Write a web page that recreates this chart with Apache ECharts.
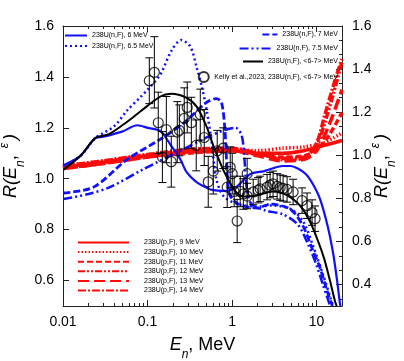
<!DOCTYPE html>
<html><head><meta charset="utf-8">
<script src="https://cdn.jsdelivr.net/npm/echarts@6/dist/echarts.min.js"></script>
<style>html,body{margin:0;padding:0;background:#fff}#c{width:404px;height:361px}</style>
</head><body><div id="c"></div>
<script>
// ---- tick labels ----
const xMajorTicks = [0.01, 0.1, 1, 10];
const xMinorTicks = [0.02,0.03,0.04,0.05,0.06,0.07,0.08,0.09,0.2,0.3,0.4,0.5,0.6,0.7,0.8,0.9,2,3,4,5,6,7,8,9,20];
const yLeftTicks = [0.6, 0.8, 1.0, 1.2, 1.4, 1.6];
const yRightTicks = [0.4, 0.6, 0.8, 1.0, 1.2, 1.4, 1.6];
const yRightMinor = [0.333,0.467,0.533,0.667,0.733,0.867,0.933,1.067,1.133,1.267,1.333,1.467,1.533];

// ---- series names ----
const nameN6 = '238U(n,F), 6 MeV';
const nameN65 = '238U(n,F), 6.5 MeV';
const nameN7 = '238U(n,F), 7 MeV';
const nameN75 = '238U(n,F), 7.5 MeV';
const nameAvg = '238U(n,F), <6-7> MeV';
const nameKelly = 'Kelly et al.,2023, 238U(n,F), <6-7> MeV';
const namesP = ['238U(p,F), 9 MeV','238U(p,F), 10 MeV','238U(p,F), 11 MeV','238U(p,F), 12 MeV','238U(p,F), 13 MeV','238U(p,F), 14 MeV'];

// ---- data [E (MeV), R] ----
const n6 = [[0.0101,1.053],[0.0161,1.09],[0.0242,1.16],[0.03,1.165],[0.05,1.185],[0.0758,1.21],[0.1,1.2],[0.142,1.187],[0.19,1.13],[0.244,1.077],[0.29,1.026],[0.38,0.987],[0.5,0.965],[0.6,0.955],[0.8,0.952],[1.1,0.965],[1.64,1.018],[2.4,1.03],[4.0,1.05],[4.9,1.05],[6.0,1.04],[7.5,1.018],[9.0,0.98],[11,0.92],[13.5,0.815],[15.6,0.713],[17.5,0.6],[18.9,0.51],[19.2,0.5]];
const n65 = [[0.0101,1.05],[0.0161,1.09],[0.0242,1.16],[0.04,1.205],[0.058,1.27],[0.082,1.32],[0.1,1.35],[0.142,1.41],[0.19,1.5],[0.25,1.545],[0.32,1.52],[0.38,1.44],[0.44,1.36],[0.5,1.27],[0.57,1.15],[0.65,1.0],[0.8,0.93],[1.2,0.9],[2.0,0.89],[3.0,0.895],[5.0,0.88],[7.0,0.83],[9.0,0.74],[12,0.62],[15,0.52],[15.6,0.5]];
const n7 = [[0.0101,0.944],[0.023,0.967],[0.058,1.077],[0.142,1.155],[0.27,1.22],[0.5,1.3],[0.65,1.315],[0.75,1.3],[0.82,1.2],[0.87,1.05],[0.93,0.94],[1.2,0.9],[2.0,0.885],[2.8,0.9],[4.9,0.88],[6.9,0.815],[9.0,0.72],[11,0.65],[13,0.57],[15.4,0.5]];
const n75 = [[0.0101,0.92],[0.02,0.94],[0.036,0.967],[0.089,1.037],[0.225,1.104],[0.5,1.162],[0.8,1.19],[1.1,1.2],[1.3,1.17],[1.4,1.08],[1.5,0.96],[1.7,0.9],[2.5,0.875],[4.0,0.86],[6.0,0.82],[8.0,0.74],[10,0.66],[12,0.58],[14.5,0.5]];
const nAvg = [[0.0101,1.035],[0.0161,1.09],[0.0242,1.16],[0.035,1.175],[0.058,1.225],[0.082,1.264],[0.142,1.323],[0.19,1.334],[0.29,1.318],[0.38,1.284],[0.5,1.205],[0.6,1.13],[0.8,1.03],[1.1,0.95],[1.4,0.93],[2.0,0.935],[3.0,0.95],[4.5,0.935],[6.4,0.893],[8.4,0.83],[10.5,0.752],[12.3,0.686],[14.4,0.6],[16.5,0.52],[17.3,0.5]];
const p9  = [[0.01,1.045],[0.03,1.065],[0.1,1.09],[0.3,1.105],[1,1.11],[2,1.1],[4,1.1],[7,1.11],[12,1.13],[20,1.15]];
const p10 = [[0.01,1.05],[0.03,1.07],[0.1,1.095],[0.3,1.11],[1,1.115],[2,1.11],[4,1.12],[7,1.125],[12,1.14],[20,1.18]];
const p11 = [[0.01,1.04],[0.03,1.06],[0.1,1.085],[0.3,1.1],[1,1.11],[2,1.095],[4,1.085],[7,1.09],[10,1.11],[14,1.17],[20,1.26]];
const p12 = [[0.01,1.045],[0.03,1.065],[0.1,1.09],[0.3,1.11],[1,1.115],[2,1.1],[4,1.08],[7,1.085],[10,1.13],[12.5,1.22],[16,1.34],[20,1.46]];
const p13 = [[0.01,1.04],[0.03,1.06],[0.1,1.085],[0.3,1.105],[1,1.11],[2,1.09],[4,1.07],[7,1.075],[10,1.11],[14,1.21],[20,1.35]];
const p14 = [[0.01,1.05],[0.03,1.07],[0.1,1.095],[0.3,1.115],[1,1.12],[2,1.1],[4,1.075],[7,1.08],[10,1.14],[12.5,1.25],[17,1.4],[20,1.47]];
// Kelly et al. 2023: [E, R, error]
const kelly = [[0.105,1.385,0.09],[0.1205,1.418,0.14],[0.134,1.22,0.12],[0.150,1.085,0.10],[0.167,1.193,0.13],[0.191,1.067,0.10],[0.225,1.183,0.12],[0.238,1.19,0.10],[0.272,1.237,0.12],[0.295,1.28,0.10],[0.330,1.22,0.10],[0.377,1.131,0.10],[0.421,1.252,0.10],[0.469,1.162,0.11],[0.523,0.988,0.10],[0.600,1.03,0.09],[0.668,1.11,0.08],[0.787,1.12,0.08],[0.877,0.967,0.08],[0.952,1.045,0.08],[1.005,1.02,0.08],[1.06,0.95,0.06],[1.15,0.834,0.085],[1.25,0.95,0.06],[1.36,0.94,0.06],[1.51,1.02,0.06],[1.51,0.932,0.05],[1.78,0.948,0.05],[2.04,0.955,0.05],[2.15,0.96,0.05],[2.60,0.967,0.05],[2.82,0.975,0.05],[3.06,0.98,0.05],[3.42,0.97,0.05],[3.71,0.965,0.05],[4.02,0.962,0.05],[4.48,0.958,0.05],[5.28,0.948,0.05],[6.74,0.914,0.05],[7.73,0.894,0.05],[8.85,0.867,0.05],[9.6,0.843,0.05]];

const BLUE = '#1010ff', RED = '#ff0a0a', BLACK = '#000';
const FONT = 'Liberation Sans, Arial, sans-serif';
const pData = [p9,p10,p11,p12,p13,p14];
const pDash = ['solid',[1.5,2],[6,3],[7,2,2,2,2,2],[11,5],[8,2,2,2]];

const series = [];
pData.forEach((d,i)=>series.push({name:namesP[i],type:'line',data:d,smooth:0.3,symbol:'none',
  lineStyle:{color:RED,width:3.5,type:pDash[i]},itemStyle:{color:RED},z:2}));
series.push({name:nameN6,type:'line',data:n6,smooth:0.3,symbol:'none',lineStyle:{color:BLUE,width:2.2},itemStyle:{color:BLUE},z:3});
series.push({name:nameN65,type:'line',data:n65,smooth:0.3,symbol:'none',lineStyle:{color:BLUE,width:2.5,type:[2,3]},itemStyle:{color:BLUE},z:3});
series.push({name:nameN7,type:'line',data:n7,smooth:0.3,symbol:'none',lineStyle:{color:BLUE,width:2.8,type:[7,3]},itemStyle:{color:BLUE},z:3});
series.push({name:nameN75,type:'line',data:n75,smooth:0.3,symbol:'none',lineStyle:{color:BLUE,width:2.5,type:[9,3,2,3,2,3]},itemStyle:{color:BLUE},z:3});
series.push({name:nameAvg,type:'line',data:nAvg,smooth:0.3,symbol:'none',lineStyle:{color:BLACK,width:2},itemStyle:{color:BLACK},z:4});
series.push({name:'err',type:'custom',data:kelly,z:5,encode:{x:0,y:1},
  renderItem:function(params,api){
    const x=api.value(0),y=api.value(1),e=api.value(2);
    const t=api.coord([x,y+e]),b=api.coord([x,y-e]);const w=4;
    const st={stroke:'#000',lineWidth:1};
    return {type:'group',children:[
      {type:'line',shape:{x1:t[0],y1:t[1],x2:b[0],y2:b[1]},style:st},
      {type:'line',shape:{x1:t[0]-w,y1:t[1],x2:t[0]+w,y2:t[1]},style:st},
      {type:'line',shape:{x1:b[0]-w,y1:b[1],x2:b[0]+w,y2:b[1]},style:st}]};
  }});
series.push({name:nameKelly,type:'scatter',data:kelly.map(r=>[r[0],r[1]]),symbol:'circle',symbolSize:10,
  itemStyle:{color:'rgba(255,255,255,0)',borderColor:'#000',borderWidth:1.2},z:6});

const legTxt = {fontSize:7,fontFamily:FONT,color:'#000'};
const noSym = {opacity:0};
const legends = [
  {data:[nameN6,nameN65],orient:'vertical',left:64,top:32,itemWidth:22,itemHeight:7,itemGap:3.5,textStyle:legTxt,itemStyle:noSym},
  {data:[nameN7],right:66,top:31,itemWidth:15,itemHeight:7,textStyle:legTxt,itemStyle:noSym},
  {data:[nameN75],right:66,top:45,itemWidth:32,itemHeight:7,textStyle:legTxt,itemStyle:noSym},
  {data:[nameAvg],right:66,top:58,itemWidth:20,itemHeight:7,textStyle:legTxt,itemStyle:noSym},
  {data:[nameKelly],right:66,top:71,itemWidth:11,itemHeight:10,textStyle:legTxt},
  {data:namesP,orient:'vertical',left:77,top:239,itemWidth:51,itemHeight:7,itemGap:2.6,itemStyle:noSym,
   textStyle:Object.assign({padding:[0,0,0,10]},legTxt)}
];
legends.forEach(l=>{l.padding=0;l.selectedMode=false;l.backgroundColor='transparent';});

const axLine = {show:true,lineStyle:{color:'#222',width:1}};
const fmtX = v => String(Number(Number(v).toPrecision(3)));
const nameRich = {
  i:{fontSize:18,fontStyle:'italic',fontFamily:FONT,color:'#000',lineHeight:24},
  s:{fontSize:12,fontStyle:'italic',fontFamily:FONT,color:'#000',verticalAlign:'bottom',lineHeight:24,padding:[0,0,-4,0]},
  t:{fontSize:18,fontFamily:FONT,color:'#000',lineHeight:24},
  e:{fontSize:12,fontStyle:'italic',fontFamily:FONT,color:'#000',verticalAlign:'top',lineHeight:24,padding:[0,3,0,2]}
};
const yName = '{i|R(E}{s|n}{t|, }{e|ε}{i|)}';

const option = {
  animation:false,
  backgroundColor:'#fff',
  grid:{left:63,right:62,top:26,bottom:55,containLabel:false,outerBoundsMode:'none'},
  legend:legends,
  xAxis:[
    {type:'log',logBase:10,min:0.01,max:20,position:'bottom',axisLine:axLine,
     axisTick:{show:true,inside:true,length:6,customValues:xMajorTicks,lineStyle:{color:'#222'}},
     axisLabel:{show:true,customValues:xMajorTicks,formatter:fmtX,fontSize:14,fontFamily:FONT,color:'#000',margin:9},
     splitLine:{show:false},minorTick:{show:false},
     name:'{i|E}{s|n}{t|, MeV}',nameLocation:'middle',nameGap:27,nameMoveOverlap:false,nameTextStyle:{rich:nameRich}},
    {type:'log',logBase:10,min:0.01,max:20,position:'bottom',axisLine:{show:false},
     axisTick:{show:true,inside:true,length:3,customValues:xMinorTicks,lineStyle:{color:'#222'}},
     axisLabel:{show:false},splitLine:{show:false}},
    {type:'log',logBase:10,min:0.01,max:20,position:'top',axisLine:axLine,
     axisTick:{show:true,inside:true,length:6,customValues:xMajorTicks,lineStyle:{color:'#222'}},
     axisLabel:{show:false},splitLine:{show:false}},
    {type:'log',logBase:10,min:0.01,max:20,position:'top',axisLine:{show:false},
     axisTick:{show:true,inside:true,length:3,customValues:xMinorTicks,lineStyle:{color:'#222'}},
     axisLabel:{show:false},splitLine:{show:false}}
  ],
  yAxis:[
    {type:'value',min:0.5,max:1.6,position:'left',axisLine:axLine,
     axisTick:{show:true,inside:true,length:6,customValues:yLeftTicks,lineStyle:{color:'#222'}},
     axisLabel:{show:true,customValues:yLeftTicks,formatter:v=>Number(v).toFixed(1),fontSize:14,fontFamily:FONT,color:'#000',margin:9},
     splitLine:{show:false},
     name:yName,nameLocation:'middle',nameRotate:90,nameGap:40,nameMoveOverlap:false,nameTextStyle:{rich:nameRich}},
    {type:'value',min:0.3,max:1.6,position:'right',axisLine:axLine,
     axisTick:{show:true,inside:true,length:6,customValues:yRightTicks,lineStyle:{color:'#222'}},
     axisLabel:{show:true,customValues:yRightTicks,formatter:v=>Number(v).toFixed(1),fontSize:14,fontFamily:FONT,color:'#000',margin:10},
     splitLine:{show:false},
     name:yName,nameLocation:'middle',nameRotate:90,nameGap:28,nameMoveOverlap:false,nameTextStyle:{rich:nameRich}},
    {type:'value',min:0.3,max:1.6,position:'right',axisLine:{show:false},
     axisTick:{show:true,inside:true,length:3,customValues:yRightMinor,lineStyle:{color:'#222'}},
     axisLabel:{show:false},splitLine:{show:false}}
  ],
  series:series
};
echarts.init(document.getElementById('c'),null,{renderer:'canvas'}).setOption(option);
</script></body></html>
